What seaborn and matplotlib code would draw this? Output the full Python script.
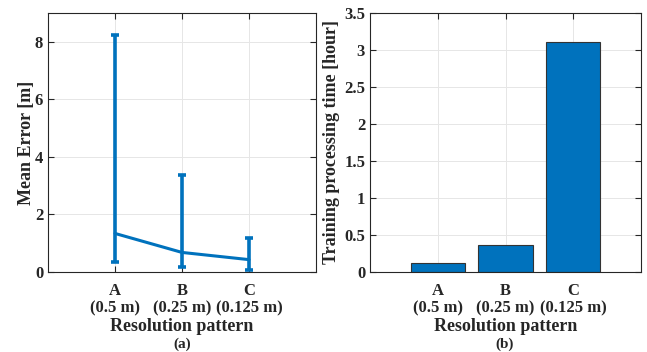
import numpy as np
import pandas as pd
import matplotlib
matplotlib.use("Agg")
import matplotlib.pyplot as plt
import seaborn as sns

categories = ["A\n(0.5 m)", "B\n(0.25 m)", "C\n(0.125 m)"]
mean_error = [1.34, 0.68, 0.43]
error_upper = [8.25, 3.37, 1.18]
error_lower = [0.36, 0.18, 0.06]
train_time = [0.12, 0.37, 3.11]

sns.set_theme(style="white")
plt.rcParams["font.family"] = ["Liberation Serif", "DejaVu Serif"]
plt.rcParams["font.weight"] = "bold"
plt.rcParams["axes.labelweight"] = "bold"

blue = "#0072BD"
fig = plt.figure(figsize=(6.47, 3.52), dpi=100)
ax1 = fig.add_axes([48/647, 1-272/352, 268/647, 259/352])
ax2 = fig.add_axes([370/647, 1-272/352, 271/647, 259/352])

df1 = pd.DataFrame({"cat": categories, "mean": mean_error,
                    "up": error_upper, "lo": error_lower})
df1["pos"] = np.arange(len(categories))
sns.lineplot(data=df1, x="pos", y="mean", ax=ax1, color=blue, lw=2.2)
ax1.errorbar(df1["pos"], df1["mean"],
             yerr=[df1["mean"] - df1["lo"], df1["up"] - df1["mean"]],
             fmt="none", ecolor=blue, elinewidth=2.6, capsize=3, capthick=2.6)
ax1.set_xlim(-1, 3)
ax1.set_ylim(0, 9)
ax1.set_yticks([0, 2, 4, 6, 8])
ax1.set_ylabel("Mean Error [m]", fontsize=13, fontweight="bold", labelpad=0)

df2 = pd.DataFrame({"cat": categories, "time": train_time})
sns.barplot(data=df2, x="cat", y="time", ax=ax2, color=blue, saturation=1,
            width=0.8, edgecolor="#333333", linewidth=0.8)
ax2.set_xlim(-1, 3)
ax2.set_ylim(0, 3.5)
ax2.set_yticks(np.arange(0, 3.51, 0.5))
ax2.set_yticklabels(["0", "0.5", "1", "1.5", "2", "2.5", "3", "3.5"])
ax2.set_ylabel("Training processing time [hour]", fontsize=13, fontweight="bold", labelpad=3)

for ax in (ax1, ax2):
    ax.set_xticks(range(len(categories)))
    ax.set_xticklabels(categories, fontsize=12, fontweight="bold", linespacing=1.1)
    ax.set_xlabel("Resolution pattern", fontsize=13, fontweight="bold", labelpad=1)
    for lab in ax.get_yticklabels():
        lab.set_fontweight("bold")
        lab.set_fontsize(12)
    ax.grid(True, color="#e6e6e6", lw=0.7)
    ax.set_axisbelow(True)
    ax.tick_params(direction="in", top=True, right=True, length=4, width=0.8,
                   colors="#262626", labelcolor="#262626", bottom=True, left=True)
    ax.tick_params(axis="x", pad=8)
    for s in ax.spines.values():
        s.set_visible(True)
        s.set_color("#262626")
        s.set_linewidth(0.8)
    ax.set_facecolor("white")

fig.text((48 + 134) / 647, 1 - 344 / 352, "(a)", ha="center", va="center",
         fontsize=11, fontweight="bold", color="#262626")
fig.text((370 + 135) / 647, 1 - 344 / 352, "(b)", ha="center", va="center",
         fontsize=11, fontweight="bold", color="#262626")

fig.savefig("out.png", dpi=100, facecolor="white")
